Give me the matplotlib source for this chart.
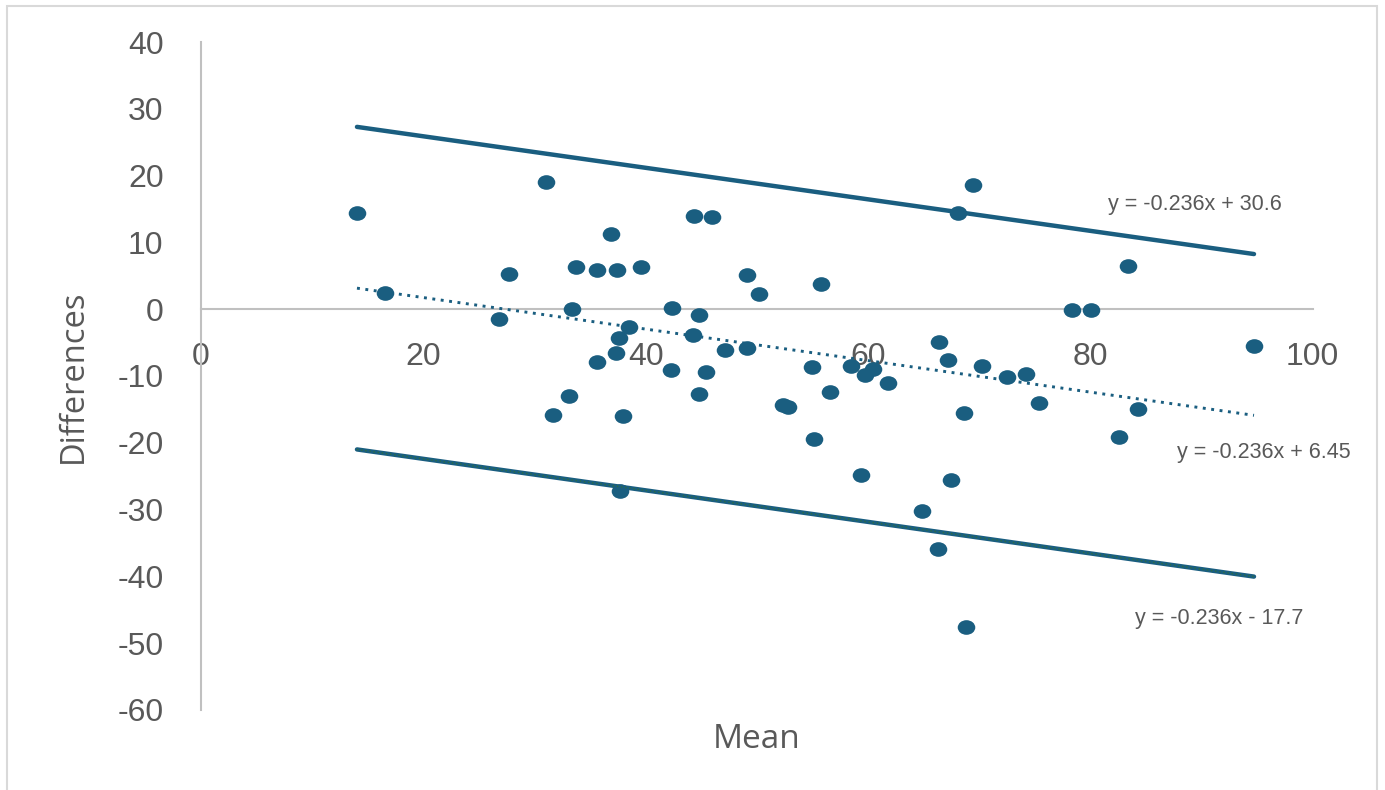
import numpy as np
import matplotlib
matplotlib.use("Agg")
import matplotlib.pyplot as plt
from matplotlib.path import Path
from matplotlib.patches import Rectangle

plt.rcParams["axes.unicode_minus"] = False

# Bland-Altman style data: mean of the two methods vs their difference
mean_vals = [14.03, 16.55, 26.81, 27.73, 31.01, 31.66, 33.13, 33.40, 33.73, 35.59,
             35.59, 36.91, 37.45, 37.57, 37.30, 37.96, 37.69, 38.47, 39.55, 42.39,
             42.28, 44.23, 44.37, 44.80, 44.77, 45.42, 45.97, 47.14, 49.09, 49.09,
             50.17, 52.38, 52.78, 54.99, 55.14, 55.80, 56.58, 58.51, 59.34, 59.73,
             60.45, 61.84, 64.86, 66.27, 66.41, 67.22, 67.46, 68.12, 68.65, 68.79,
             69.42, 70.24, 72.48, 74.18, 75.35, 78.38, 80.06, 82.55, 83.36, 84.26,
             94.72]
diff_vals = [14.42, 2.40, -1.41, 5.28, 19.01, -15.82, -12.98, 0.0, 6.38, 5.88,
             -7.89, 11.32, 5.88, -4.34, -6.59, -15.97, -27.31, -2.75, 6.38, 0.15,
             -9.09, -3.88, 14.01, -0.82, -12.75, -9.49, 13.79, -6.09, 5.16, -5.84,
             2.25, -14.33, -14.70, -8.68, -19.46, 3.79, -12.46, -8.56, -24.88, -9.84,
             -8.97, -10.99, -30.27, -35.88, -4.90, -7.59, -25.66, 14.37, -15.63, -47.56,
             18.56, -8.49, -10.21, -9.66, -14.10, -0.06, -0.06, -19.12, 6.48, -14.93,
             -5.45]

# trend line coefficients (slope, intercept)
slope = -0.236
b_upper = 30.6
b_mid = 6.45
b_lower = -17.7

blue = "#1A5E80"
grey_txt = "#595959"

fig = plt.figure(figsize=(13.85, 7.9), dpi=100)
ax = fig.add_axes([201 / 1385, 1 - 709.8 / 790, 1111.7 / 1385, 667.8 / 790])

# slightly wide elliptical dots
circ = Path.unit_circle()
ell = Path(circ.vertices * np.array([1.2, 1.0]), circ.codes)
ax.scatter(mean_vals, diff_vals, s=160, marker=ell, color=blue, linewidths=0, zorder=3)

xs = np.array([min(mean_vals), max(mean_vals)])
ax.plot(xs, slope * xs + b_upper, color=blue, lw=3.2, solid_capstyle="round", zorder=4)
ax.plot(xs, slope * xs + b_mid, color=blue, lw=2.1, linestyle=(0, (1, 1.9)), zorder=4)
ax.plot(xs, slope * xs + b_lower, color=blue, lw=3.2, solid_capstyle="round", zorder=4)
ax.plot(xs, slope * xs + b_lower, color="#2F6F3E", lw=1.0, linestyle=(0, (1, 2)), zorder=5)

ax.set_xlim(0, 100)
ax.set_ylim(-60, 40)
ax.set_xticks(np.arange(0, 101, 20))
ax.set_yticks(np.arange(-60, 41, 10))

for s in ["top", "right"]:
    ax.spines[s].set_visible(False)
ax.spines["left"].set_position(("data", 0))
ax.spines["bottom"].set_position(("data", 0))
for s in ["left", "bottom"]:
    ax.spines[s].set_color("#C0C0C0")
    ax.spines[s].set_linewidth(1.5)
ax.tick_params(axis="both", length=0, labelsize=23, labelcolor=grey_txt)
ax.tick_params(axis="x", pad=24)
ax.tick_params(axis="y", pad=27)
for lab in ax.get_xticklabels() + ax.get_yticklabels():
    lab.set_fontfamily("Liberation Sans")

eq_font = dict(fontsize=15.5, color=grey_txt, family="Liberation Sans", ha="left", va="center")
ax.text(81.6, 15.6, "y = -0.236x + 30.6", **eq_font)
ax.text(87.8, -21.4, "y = -0.236x + 6.45", clip_on=False, **eq_font)
ax.text(84.0, -46.4, "y = -0.236x - 17.7", **eq_font)

fig.text(757 / 1385, 1 - 739 / 790, "Mean", ha="center", va="center",
         fontsize=24, color=grey_txt, family="Open Sans")
fig.text(73 / 1385, 1 - 376 / 790, "Differences", ha="center", va="center",
         rotation=90, fontsize=23.5, color=grey_txt, family="Open Sans")

# outer chart border
fig.patches.append(Rectangle((7 / 1385, -0.05), 1370 / 1385, 1.05 - 6 / 790,
                             transform=fig.transFigure, fill=False,
                             edgecolor="#D9D9D9", lw=1.5))

fig.savefig("out.png", dpi=100)
